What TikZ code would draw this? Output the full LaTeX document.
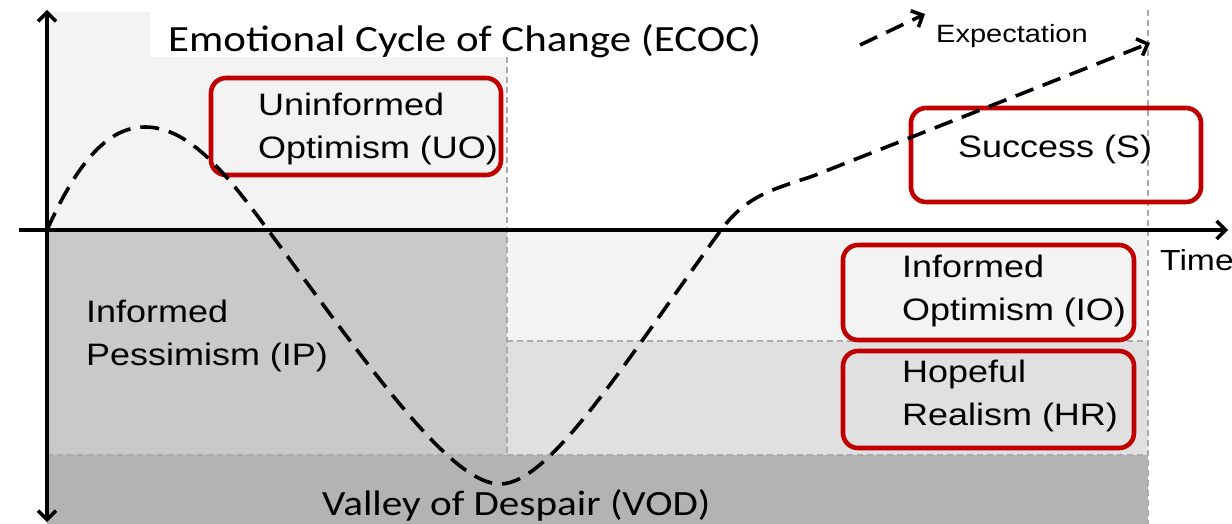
\documentclass[tikz,border=0pt]{standalone}
\usepackage{fontspec}
\setmainfont{Liberation Sans}[FakeStretch=1.16]
\newfontfamily\calfont{Carlito}[FakeStretch=1.16]
\usetikzlibrary{positioning,arrows.meta}
\definecolor{ecRed}{RGB}{192,0,0}
\definecolor{ecPale}{RGB}{243,243,243}
\definecolor{ecMid}{RGB}{224,224,224}
\definecolor{ecGray}{RGB}{201,201,201}
\definecolor{ecDark}{RGB}{179,179,179}
\definecolor{ecEdge}{RGB}{170,170,170}
\tikzset{
    stage/.style={rectangle, rounded corners=15pt, draw=ecRed, line width=4.6pt, inner sep=0pt},
    lbl/.style={font=\fontsize{31}{43}\selectfont, align=left, inner sep=0pt, anchor=west},
    border/.style={draw=ecEdge, line width=1.8pt, dash pattern=on 6pt off 4pt},
    axis/.style={line width=3.4pt},
    trend/.style={line width=3.6pt, dash pattern=on 19pt off 10pt}
}

\begin{document}
\begin{tikzpicture}[
    x=1pt, y=-1pt,
    >={Straight Barb[length=9pt,width=18pt]}
]
  \useasboundingbox (0,0) rectangle (1232,524);

  % Regions
  \fill[ecPale] (47,12) rectangle (507,230);
  \fill[ecGray] (47,230) rectangle (507,455);
  \fill[ecPale] (507,230) rectangle (1148,341);
  \fill[ecMid] (507,341) rectangle (1148,455);
  \fill[ecDark] (47,455) rectangle (1148,524);
  \draw[border] (507,57) -- (507,455);
  \draw[border] (507,341) -- (1148,341);
  \draw[border] (47,455) -- (1148,455);
  \draw[border] (1148,10) -- (1148,524);

  % Nodes
  \node[font=\calfont\fontsize{37}{44}\selectfont, fill=white, anchor=base west,
        inner xsep=18pt, inner ysep=5pt, text height=35pt, text depth=0pt]
        (title) at (150,52) {Emotional Cycle of Change (ECOC)};

  \coordinate (origin) at (47,230);
  \coordinate (yTop) at (47,10);
  \coordinate (yBot) at (47,522);
  \coordinate (xLeft) at (19,230);
  \coordinate (xRight) at (1228,230);
  \coordinate (peak) at (145,127);
  \coordinate (cross1) at (268,230);
  \coordinate (trough) at (500,484);
  \coordinate (cross2) at (721,230);
  \coordinate (bend) at (813,176);
  \coordinate (expEnd) at (1150,43);
  \coordinate (keyStart) at (860,45);
  \coordinate (keyEnd) at (925,14);

  \node[stage, minimum width=290pt, minimum height=97pt] (uoBox) at (356,126.5) {};
  \node[stage, minimum width=290pt, minimum height=94pt] (sBox) at (1056,155) {};
  \node[stage, minimum width=291pt, minimum height=95pt] (ioBox) at (988.5,292.5) {};
  \node[stage, minimum width=291pt, minimum height=97pt] (hrBox) at (988.5,399.5) {};

  \node[lbl] (uoTxt) at (258,129) {Uninformed\\Optimism (UO)};
  \node[lbl] (sTxt) at (958,149) {Success (S)};
  \node[lbl] (ioTxt) at (902,290.5) {Informed\\Optimism (IO)};
  \node[lbl] (hrTxt) at (902,396) {Hopeful\\Realism (HR)};
  \node[lbl] (ipTxt) at (86,335.5) {Informed\\Pessimism (IP)};

  \node[font=\calfont\fontsize{35.5}{42}\selectfont, anchor=base west, inner sep=0pt]
        (vodTxt) at (322,515) {Valley of Despair (VOD)};
  \node[font=\fontsize{25}{30}\selectfont, anchor=base west, inner sep=0pt]
        (expLbl) at (936,43) {Expectation};
  \node[font=\fontsize{29}{34}\selectfont, anchor=base west, inner sep=0pt]
        (timeLbl) at (1160,270) {Time};

  % Edges
  \draw[axis, <->] (yTop) -- (yBot);
  \draw[axis, ->] (xLeft) -- (xRight);
  \draw[trend, ->] (origin) .. controls (75,168) and (105,127) .. (peak)
        .. controls (190,127) and (228,176) .. (cross1)
        .. controls (368,365) and (450,484) .. (trough)
        .. controls (550,484) and (625,362) .. (cross2)
        .. controls (748,194) and (775,189) .. (bend) -- (expEnd);
  \draw[trend, ->] (keyStart) -- (keyEnd);

\end{tikzpicture}
\end{document}
